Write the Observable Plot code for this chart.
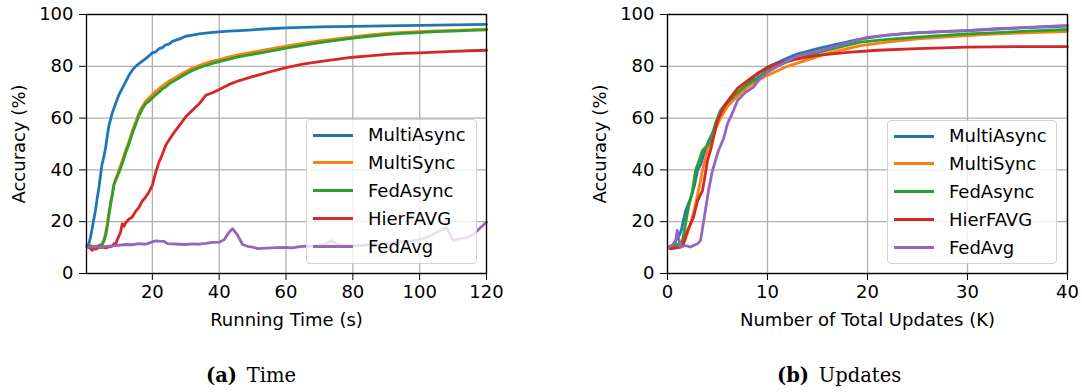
<!DOCTYPE html>
<html><head><meta charset="utf-8">
<script src="https://cdn.jsdelivr.net/npm/d3@7"></script>
<script src="https://cdn.jsdelivr.net/npm/@observablehq/plot@0.6"></script>
<style>
body{margin:0;background:#fff;}
#wrap{position:relative;width:1082px;height:392px;font-family:"DejaVu Sans",sans-serif;overflow:hidden;}
.panel{position:absolute;top:0;}
.legend{position:absolute;box-sizing:border-box;border:1px solid #d3d3d3;border-radius:4px;background:rgba(255,255,255,0.8);}
.row{position:absolute;left:0;height:28px;width:100%;}
.swatch{position:absolute;left:6px;width:40px;height:3px;}
.lab{position:absolute;left:61px;font-size:18px;line-height:28px;color:#000;white-space:nowrap;}
.cap{position:absolute;font-family:"DejaVu Serif",serif;font-size:19.5px;color:#000;white-space:nowrap;}
</style></head>
<body><div id="wrap"></div>
<script>
const seriesNames = ["MultiAsync","MultiSync","FedAsync","HierFAVG","FedAvg"];
const seriesColors = ["#1f77b4","#ff7f0e","#2ca02c","#d62728","#9467bd"];
const timeTicks = [20,40,60,80,100,120];
const updateTicks = [0,10,20,30,40];
const accTicks = [0,20,40,60,80,100];

// (a) accuracy vs running time (s)
const timeMultiAsyncX = [0.5,1,1.5,2,2.5,3,3.5,4,4.5,5,5.5,6,6.5,7,7.5,8,9,10,11,12,13,14,15,16,17,18,19,20,21,22,23,24,25,26,28,30,32,34,36,38,40,43,46,50,55,60,65,70,75,80,85,90,95,100,105,110,115,120];
const timeMultiAsyncY = [10.5,11.5,14,17.5,21,24.5,29,33,38,42.5,45,48.5,53,57,59.5,62,65.5,69,71.5,74,76.5,78.5,80,81,82,83,84,85.2,85.6,86.8,87.2,88.3,88.6,89.6,90.5,91.6,92,92.5,92.8,93.1,93.3,93.6,93.8,94.1,94.5,94.8,95,95.2,95.3,95.4,95.5,95.6,95.7,95.8,95.9,96,96.1,96.2];
const timeSyncX = [0.5,1,2,3,4,5,5.5,6,6.5,7,7.5,8,8.5,9,9.5,10,11,12,13,14,15,16,17,18,19,20,21,22,23,24,25,26,28,30,32,34,36,38,40,43,46,50,55,60,65,70,75,80,85,90,95,100,105,110,115,120];
const timeMultiSyncY = [10.8,11,10.6,10.4,10.8,11.5,13,15.5,19,23.5,27.5,31,34.5,36.5,38,40,43.5,47.5,51,55,58.5,62,64.5,66.5,67.8,69,70.3,71.3,72.5,73.3,74.3,75,76.5,78,79.3,80.3,81.2,82,82.6,83.6,84.5,85.5,86.6,87.8,88.8,89.8,90.6,91.4,92.1,92.7,93.1,93.4,93.7,93.9,94.1,94.3];
const timeFedAsyncY = [10.6,10.9,10.4,10.3,10.6,11.2,12.4,14.5,18,22.5,26.5,30,34,36,37.5,39,42.5,46.5,50,54,57.5,61,63.5,65.5,66.5,67.8,69,70,71.3,72,73.2,74,75.5,77,78.4,79.5,80.3,81.1,81.8,82.8,83.7,84.6,85.8,87,88.1,89.1,90,90.9,91.6,92.2,92.7,93,93.4,93.6,93.9,94.1];
const timeHierX = [0.5,1,1.5,2,2.5,3,4,5,6,7,8,8.5,9,9.5,10,10.5,11,11.5,12,13,14,15,16,17,18,19,20,21,22,23,24,25,26,28,30,32,34,36,38,40,43,46,50,55,60,65,70,75,80,85,90,95,100,105,110,115,120];
const timeHierY = [10.5,10,9.6,9,9.8,9.4,10,10.2,9.9,10.3,10.6,11.5,11.2,13,14.5,16,19.2,18.2,19.5,21,21.8,24,25.5,28,29.5,31.5,34,39,43,46,49.5,51.5,53.5,57,60.5,63,65.5,68.8,69.8,71,73,74.5,76,77.8,79.5,80.8,81.8,82.7,83.5,84,84.6,85,85.2,85.5,85.8,86,86.2];
const timeFedAvgX = [0.5,2,4,6,9,12,14,16,18,20,21,22,23.5,24.5,26,28,30,32,34,36,38,40,41.5,43,44,45.5,47,48.5,50,51.5,54,57,60,62,64,66,68,70,72,73.5,75,77,80,83,86,90,94,98,101,104,106,108,110,112,114,116,118,120];
const timeFedAvgY = [10.2,10.3,10.2,10.5,10.8,11.2,11.1,11.5,11.3,12.2,12.6,12.5,12.4,11.5,11.4,11.3,11.2,11.4,11.3,11.6,12,12.1,13,16,17.3,14.8,11.2,10.5,10.2,9.6,9.8,10,10.1,9.9,10.4,10.6,10.5,11,11.4,12.8,11.6,10.8,10.7,10.9,11.3,11.5,12.2,12.6,13.5,15,16.5,17.8,12.8,13.5,13.8,15,17.5,19.8];

// (b) accuracy vs number of total updates (K)
const updMultiAsyncX = [0.2,0.5,0.8,1.1,1.4,1.6,1.8,2.1,2.4,2.7,3,3.3,3.6,4.1,4.6,5.1,5.6,6.3,7,7.8,8.6,9.3,10,11,12,13,14,15,16,17,18,19,20,22,24,26,28,30,32,34,36,38,40];
const updMultiAsyncY = [10,10.8,12.7,14,17,20.5,24,27,30,34,39.8,42,45.5,51,55,59,63,66.5,69.4,72.5,75.8,77.8,79.7,81.5,83.2,84.8,85.8,86.8,87.7,88.6,89.4,90.3,91,92,92.7,93.1,93.5,93.8,94.2,94.6,94.9,95.2,95.5];
const updMultiSyncX = [0.2,0.5,1,1.5,1.7,2,2.3,2.7,3.1,3.5,4,4.6,5.3,6,7,8,9,10,11,12,13,14,16,18,19.3,22,25,28,30,32,35,38,40];
const updMultiSyncY = [10,10.3,10.5,11,12.5,15.5,19.2,25,32,40,47.5,54,60,64.5,68.5,72,74.5,76.5,78.3,80,81.2,82.5,85,86.8,88,89.3,90.6,91.4,91.9,92.3,92.8,93.2,93.4];
const updFedAsyncX = [0.2,0.5,0.8,1.2,1.5,1.8,2.1,2.5,2.8,3.1,3.5,4,4.3,4.8,5.3,6,7,8,9,10,11,12,13,14,16,18,19.3,22,25,28,30,33,36,40];
const updFedAsyncY = [10,10.5,11,11.5,12.7,19,25.6,32,39.8,43,47.5,49.5,51.4,58,63,66.5,70,73,75.5,78.5,80.2,81.8,83,84.2,86.2,88.2,89.3,90.4,91.3,92,92.5,93,93.6,94.2];
const updHierX = [0.3,0.6,1,1.3,1.6,2,2.6,3,3.5,4,4.3,5,5.6,6.3,7,8,9,10,11,13,15,18,21,25,30,35,40];
const updHierY = [9.5,9.7,10,10.2,11.5,16.6,21.7,28,32,43.6,47.5,59,64,68,71.5,74.5,77.3,79.5,81,82.9,84.2,85.4,86.2,86.8,87.4,87.6,87.6];
const updFedAvgX = [0.1,0.5,0.8,0.97,1.1,1.3,1.8,2.3,2.6,3,3.3,3.6,4.1,4.5,5.1,5.6,6,6.5,7,7.8,8.6,9.3,10,11,12,13,14,15,16,18,20,22,25,28,30,33,36,40];
const updFedAvgY = [10.2,11,12,16.6,14,10.2,10.8,10.2,10.8,11.5,12.7,19.8,32,39.8,47.5,52,57.8,62,66.8,70,72,75.5,77.7,80,82,84,85,85.8,86.8,89,91.2,92,93,93.5,93.8,94.5,95,95.8];

function rows(name, xs, ys) { return xs.map((x, i) => ({series: name, x, y: ys[i]})); }

const timeData = [
  ...rows("MultiAsync", timeMultiAsyncX, timeMultiAsyncY),
  ...rows("MultiSync", timeSyncX, timeMultiSyncY),
  ...rows("FedAsync", timeSyncX, timeFedAsyncY),
  ...rows("HierFAVG", timeHierX, timeHierY),
  ...rows("FedAvg", timeFedAvgX, timeFedAvgY)
];
const updData = [
  ...rows("MultiAsync", updMultiAsyncX, updMultiAsyncY),
  ...rows("MultiSync", updMultiSyncX, updMultiSyncY),
  ...rows("FedAsync", updFedAsyncX, updFedAsyncY),
  ...rows("HierFAVG", updHierX, updHierY),
  ...rows("FedAvg", updFedAvgX, updFedAvgY)
];

function panel(data, xDomain, xTicks, xLabel, mLeft, mRight) {
  return Plot.plot({
    width: 541, height: 335,
    marginLeft: mLeft, marginRight: mRight, marginTop: 14, marginBottom: 62,
    style: {fontFamily: "DejaVu Sans, sans-serif", fontSize: "18px", color: "#000", background: "transparent", overflow: "visible"},
    x: {domain: xDomain},
    y: {domain: [0, 100]},
    color: {domain: seriesNames, range: seriesColors},
    marks: [
      Plot.gridX(xTicks, {stroke: "#b0b0b0", strokeOpacity: 1, strokeWidth: 1.3}),
      Plot.gridY(accTicks, {stroke: "#b0b0b0", strokeOpacity: 1, strokeWidth: 1.3}),
      Plot.line(data, {x: "x", y: "y", z: "series", stroke: "series", strokeWidth: 2.8, strokeLinejoin: "round"}),
      Plot.frame({stroke: "#000", strokeWidth: 1.3}),
      Plot.axisX(xTicks, {tickSize: 7, tickPadding: 5, fontSize: 18, label: xLabel, labelAnchor: "center", labelArrow: "none", labelOffset: 52}),
      Plot.axisY(accTicks, {tickSize: 7, tickPadding: 6, fontSize: 18, label: "Accuracy (%)", labelAnchor: "center", labelArrow: "none", labelOffset: 74})
    ]
  });
}

const wrap = document.getElementById("wrap");
const a = panel(timeData, [0.3, 120], timeTicks, "Running Time (s)", 86, 55);
a.classList.add("panel"); a.style.left = "0px";
wrap.appendChild(a);
const b = panel(updData, [0, 40], updateTicks, "Number of Total Updates (K)", 126, 15);
b.classList.add("panel"); b.style.left = "541px";
wrap.appendChild(b);

function legend(left, top, width, height) {
  const box = document.createElement("div");
  box.className = "legend";
  Object.assign(box.style, {left: left + "px", top: top + "px", width: width + "px", height: height + "px"});
  seriesNames.forEach((name, i) => {
    const r = document.createElement("div");
    r.className = "row";
    r.style.top = (1 + i * 27.9) + "px";
    const sw = document.createElement("div");
    sw.className = "swatch";
    sw.style.top = "12.5px";
    sw.style.background = seriesColors[i];
    const t = document.createElement("div");
    t.className = "lab";
    t.textContent = name;
    r.appendChild(sw); r.appendChild(t);
    box.appendChild(r);
  });
  wrap.appendChild(box);
}
legend(306, 119, 171, 145);
legend(887, 120, 170, 144);

function caption(left, tag, text) {
  const c = document.createElement("div");
  c.className = "cap";
  c.style.left = left + "px";
  c.style.top = "364px";
  const bEl = document.createElement("b");
  bEl.textContent = tag;
  c.appendChild(bEl);
  c.appendChild(document.createTextNode("\u2002" + text));
  wrap.appendChild(c);
}
caption(206, "(a)", "Time");
caption(777, "(b)", "Updates");
</script>
</body></html>
